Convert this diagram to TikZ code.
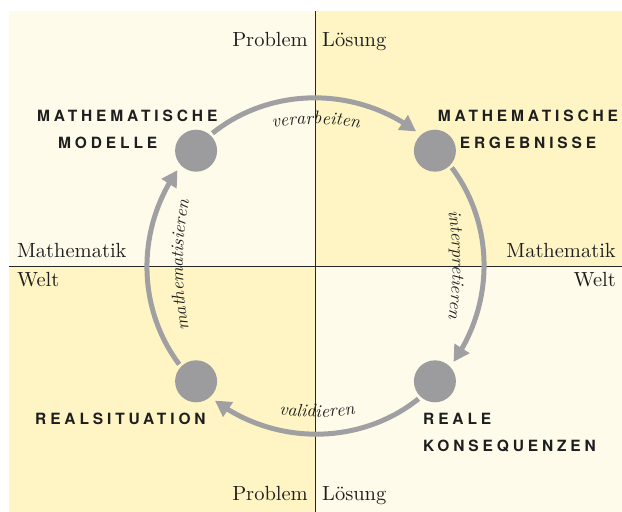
\documentclass[tikz,border=0pt]{standalone}
\usepackage{fontspec}
\setmainfont{Latin Modern Roman}[OpticalSize=10]
\newfontfamily\capsfont[LetterSpace=25]{TeX Gyre Heros}
\usetikzlibrary{arrows.meta,bending,decorations.text}
\definecolor{paleY}{HTML}{FFFBEA}
\definecolor{deepY}{HTML}{FFF5C4}
\definecolor{arcgray}{HTML}{A0A0A2}
\definecolor{dotgray}{HTML}{9C9C9E}
\definecolor{textdark}{HTML}{1E1E1E}
\newcommand\arclabfont{\fontsize{18}{20}\selectfont\itshape\color{textdark}}
\tikzset{
  axisline/.style={draw=black!85, line width=0.9pt},
  dot/.style={circle, fill=dotgray, minimum size=42pt, inner sep=0pt, outer sep=0pt},
  arcline/.style={draw=arcgray, line width=5pt, -{Triangle[length=16pt,width=17pt]}, shorten <=3pt, shorten >=6pt, looseness=0.96},
  caplab/.style={font={\capsfont\bfseries\fontsize{15.5}{27}\selectfont}, text=textdark, inner sep=0pt, align=left},
  serif/.style={font={\fontsize{20.5}{24}\selectfont}, text=textdark, inner sep=0pt},
}
\begin{document}
\begin{tikzpicture}[x=1pt,y=1pt]
\useasboundingbox (0,0) rectangle (622,-512);
% quadrants
\fill[paleY] (9,-11) rectangle (315.5,-266.5);
\fill[deepY] (315.5,-11) rectangle (622,-266.5);
\fill[deepY] (9,-266.5) rectangle (315.5,-512);
\fill[paleY] (315.5,-266.5) rectangle (622,-512);
\draw[axisline] (315.5,-11) -- (315.5,-512);
\draw[axisline] (9,-266.5) -- (622,-266.5);
% cycle
\coordinate (c) at (315.5,-266);
\node[dot] (mm) at ([shift={(136:166)}]c) {};
\node[dot] (me) at ([shift={(44:166)}]c) {};
\node[dot] (rk) at ([shift={(-44:166)}]c) {};
\node[dot] (rs) at ([shift={(224:166)}]c) {};
\draw[arcline] (mm.48) to[bend left=38.8] (me.132);
\draw[arcline] (me.-44) to[bend left=36.8] (rk.44);
\draw[arcline] (rk.228) to[bend left=38.8] (rs.312);
\draw[arcline] (rs.136) to[bend left=36.8] (mm.224);
% arc labels (gently curved baselines)
\path[decorate, decoration={text along path, text align=center, text={|\arclabfont|verarbeiten}}]
  (316,-374) ++(104:250) arc[start angle=104, end angle=76, radius=250];
\path[decorate, decoration={text along path, text align=center, text={|\arclabfont|interpretieren}}]
  (102.5,-265) ++(13:350) arc[start angle=13, end angle=-13, radius=350];
\path[decorate, decoration={text along path, text align=center, text={|\arclabfont|validieren}}]
  (317,-167) ++(256:250) arc[start angle=256, end angle=284, radius=250];
\path[decorate, decoration={text along path, text align=center, text={|\arclabfont|mathematisieren}}]
  (533,-265) ++(193:350) arc[start angle=193, end angle=167, radius=350];
% station labels
\node[caplab, anchor=north west] (mmlab) at (37,-110) {MATHEMATISCHE\\\hspace*{21pt}MODELLE};
\node[caplab, align=center, anchor=north] (melab) at (528,-110) {MATHEMATISCHE\\ERGEBNISSE};
\node[caplab, anchor=north west] (rslab) at (35,-413) {REALSITUATION};
\node[caplab, anchor=north west] (rklab) at (423,-413) {REALE\\KONSEQUENZEN};
% axis labels
\node[serif, anchor=base east] (probT) at (308,-46) {Problem};
\node[serif, anchor=base west] (loesT) at (322,-46) {Lösung};
\node[serif, anchor=base west] (mathL) at (17,-257) {Mathematik};
\node[serif, anchor=base west] (weltL) at (17,-286) {Welt};
\node[serif, anchor=base east] (mathR) at (616,-257) {Mathematik};
\node[serif, anchor=base east] (weltR) at (616,-286) {Welt};
\node[serif, anchor=base east] (probB) at (308,-500) {Problem};
\node[serif, anchor=base west] (loesB) at (322,-500) {Lösung};
\end{tikzpicture}
\end{document}
